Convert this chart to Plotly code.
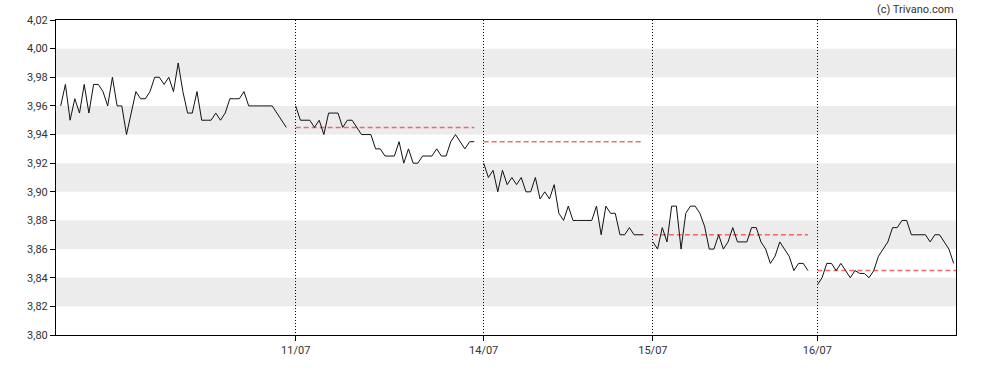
import plotly.graph_objects as go

# Day labels (tick labels) and the slot where each trading day begins
day_labels = ["10/07", "11/07", "14/07", "15/07", "16/07"]
day_start = [1, 51, 91, 127, 162]

# Intraday prices per day
day1 = [3.960, 3.975, 3.950, 3.965, 3.955, 3.975, 3.955, 3.975, 3.975, 3.970,
        3.960, 3.980, 3.960, 3.960, 3.940, 3.955, 3.970, 3.965, 3.965, 3.970,
        3.980, 3.980, 3.975, 3.980, 3.970, 3.990, 3.970, 3.955, 3.955, 3.970,
        3.950, 3.950, 3.950, 3.955, 3.950, 3.955, 3.965, 3.965, 3.965, 3.970,
        3.960, 3.960, 3.960, 3.960, 3.960, 3.960, 3.955, 3.950, 3.945]
day2 = [3.960, 3.950, 3.950, 3.950, 3.945, 3.950, 3.940, 3.955, 3.955, 3.955,
        3.945, 3.950, 3.950, 3.945, 3.940, 3.940, 3.940, 3.930, 3.930, 3.925,
        3.925, 3.925, 3.935, 3.920, 3.930, 3.920, 3.920, 3.925, 3.925, 3.925,
        3.930, 3.925, 3.925, 3.935, 3.940, 3.935, 3.930, 3.935, 3.935]
day3 = [3.920, 3.910, 3.915, 3.900, 3.915, 3.905, 3.910, 3.905, 3.910, 3.900,
        3.900, 3.910, 3.895, 3.900, 3.895, 3.905, 3.885, 3.880, 3.890, 3.880,
        3.880, 3.880, 3.880, 3.880, 3.890, 3.870, 3.890, 3.885, 3.885, 3.870,
        3.870, 3.875, 3.870, 3.870, 3.870]
day4 = [3.865, 3.860, 3.875, 3.865, 3.890, 3.890, 3.860, 3.885, 3.890, 3.890,
        3.885, 3.876, 3.860, 3.860, 3.870, 3.860, 3.865, 3.875, 3.865, 3.865,
        3.865, 3.875, 3.875, 3.865, 3.860, 3.850, 3.855, 3.865, 3.860, 3.855,
        3.845, 3.850, 3.850, 3.845]
day5 = [3.835, 3.840, 3.850, 3.850, 3.845, 3.850, 3.845, 3.840, 3.845, 3.843,
        3.843, 3.840, 3.845, 3.855, 3.860, 3.865, 3.875, 3.875, 3.880, 3.880,
        3.870, 3.870, 3.870, 3.870, 3.865, 3.870, 3.870, 3.865, 3.860, 3.850]

days = [day1, day2, day3, day4, day5]
x_end = 191.5

y_min, y_max, y_step = 3.80, 4.02, 0.02

fig = go.Figure()

# Alternating background bands
k = 1
while y_min + (k + 1) * y_step <= y_max + 1e-9:
    fig.add_shape(type="rect", xref="paper", x0=0, x1=1, yref="y",
                  y0=y_min + k * y_step, y1=y_min + (k + 1) * y_step,
                  fillcolor="#ececec", line_width=0, layer="below")
    k += 2

# Previous close dashed lines
for i in range(1, len(days)):
    prev_close = days[i - 1][-1]
    x0 = day_start[i]
    x1 = day_start[i] + len(days[i]) - 1 if i < len(days) - 1 else x_end
    fig.add_trace(go.Scatter(x=[x0, x1], y=[prev_close, prev_close], mode="lines",
                             line=dict(color="rgba(240,70,70,0.8)", width=1.5, dash="5px,3px"),
                             hoverinfo="skip", showlegend=False))

# Price line per day
for start, vals in zip(day_start, days):
    xs = [start + j for j in range(len(vals))]
    fig.add_trace(go.Scatter(x=xs, y=vals, mode="lines",
                             line=dict(color="#111111", width=1),
                             showlegend=False))

fig.add_annotation(text="(c) Trivano.com", xref="paper", yref="paper",
                   x=1.0, y=1.0, xanchor="right", yanchor="bottom", yshift=2,
                   showarrow=False, font=dict(size=11, color="#333333"))

fig.update_layout(
    width=988, height=370,
    margin=dict(l=56, r=32, t=20, b=35),
    plot_bgcolor="white", paper_bgcolor="white",
    separators=", ",
    font=dict(family="Roboto, Arial, sans-serif", size=11, color="#333333"),
    xaxis=dict(range=[0, x_end], tickvals=day_start[1:], ticktext=day_labels[1:],
               ticks="outside", ticklen=5, tickcolor="#000000",
               showgrid=True, gridcolor="#000000", griddash="1px,2px", gridwidth=1,
               showline=True, linecolor="#000000", linewidth=1, mirror=True,
               zeroline=False, fixedrange=True),
    yaxis=dict(range=[y_min, y_max], dtick=y_step, tick0=y_min, tickformat=".2f",
               ticks="outside", ticklen=5, tickcolor="#000000",
               showgrid=False, showline=True, linecolor="#000000", linewidth=1,
               mirror=True, zeroline=False, fixedrange=True),
)

fig.write_html("out.html")
